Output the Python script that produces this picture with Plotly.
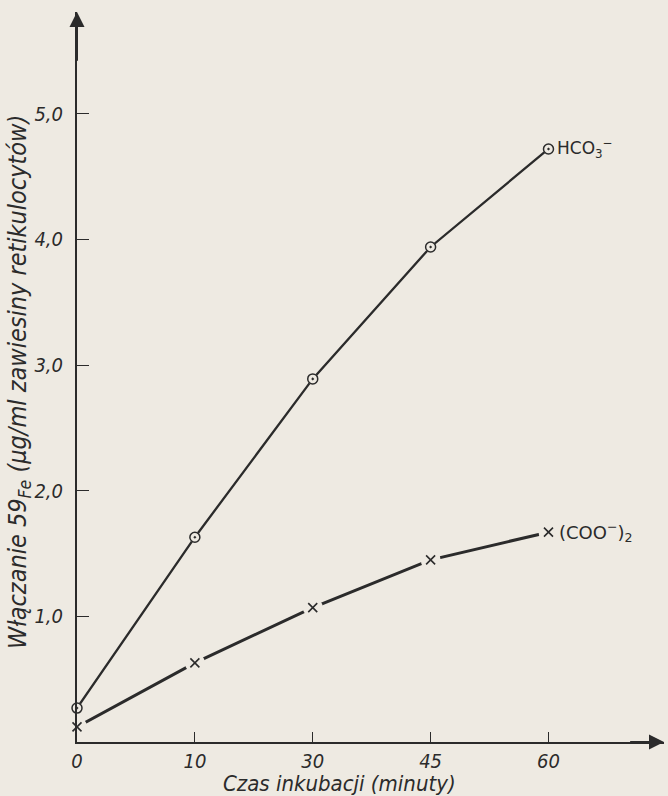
import plotly.graph_objects as go

# ---- data ----
time_labels = ["0", "10", "30", "45", "60"]
hco3_values = [0.27, 1.63, 2.89, 3.94, 4.72]
oxalate_values = [0.12, 0.63, 1.07, 1.45, 1.67]
y_tick_vals = [1, 2, 3, 4, 5]
y_tick_text = ["1,0", "2,0", "3,0", "4,0", "5,0"]

BG = "#eeeae2"
INK = "#2b2b2b"
FONT = "Liberation Sans Narrow, DejaVu Sans Condensed, sans-serif"

W, H = 668, 796
ML, MR, MT, MB = 77, 4, 12, 54
PW, PH = W - ML - MR, H - MT - MB

xi = list(range(len(time_labels)))

fig = go.Figure()
fig.add_trace(go.Scatter(x=xi, y=hco3_values, mode="lines",
                         line=dict(color=INK, width=2.3), cliponaxis=False,
                         hoverinfo="skip", showlegend=False))
fig.add_trace(go.Scatter(x=xi, y=oxalate_values, mode="lines",
                         line=dict(color=INK, width=3), cliponaxis=False,
                         hoverinfo="skip", showlegend=False))
# knock-outs so lines stop short of the markers
fig.add_trace(go.Scatter(x=xi, y=oxalate_values, mode="markers",
                         marker=dict(symbol="circle", size=20, color=BG, line=dict(width=0)),
                         cliponaxis=False, hoverinfo="skip", showlegend=False))
fig.add_trace(go.Scatter(x=xi, y=hco3_values, mode="markers",
                         marker=dict(symbol="circle", size=11, color=BG, line=dict(width=0)),
                         cliponaxis=False, hoverinfo="skip", showlegend=False))
fig.add_trace(go.Scatter(x=xi, y=hco3_values, mode="markers",
                         marker=dict(symbol="circle-open-dot", size=10, color=INK,
                                     line=dict(width=1.5, color=INK)),
                         cliponaxis=False, showlegend=False))
fig.add_trace(go.Scatter(x=xi, y=oxalate_values, mode="markers",
                         marker=dict(symbol="x-thin", size=9, color=INK,
                                     line=dict(width=1.6, color=INK)),
                         cliponaxis=False, showlegend=False))

xmax = 4.98
ymax = 5.81

fig.update_layout(
    width=W, height=H,
    margin=dict(l=ML, r=MR, t=MT, b=MB),
    paper_bgcolor=BG, plot_bgcolor=BG,
    font=dict(family=FONT, color=INK, size=15),
    xaxis=dict(range=[0, xmax], tickmode="array", tickvals=xi, ticktext=time_labels,
               ticks="inside", ticklen=10, tickwidth=1.2, tickcolor=INK,
               showline=True, linecolor=INK, linewidth=2, showgrid=False, zeroline=False,
               tickfont=dict(family=FONT, size=20, style="italic", color=INK),
               ticklabelstandoff=0),
    yaxis=dict(range=[0, ymax], tickmode="array", tickvals=y_tick_vals, ticktext=y_tick_text,
               ticks="inside", ticklen=12, tickwidth=1.2, tickcolor=INK,
               showline=True, linecolor=INK, linewidth=2, showgrid=False, zeroline=False,
               tickfont=dict(family=FONT, size=20, style="italic", color=INK),
               ticklabelstandoff=8),
)

# axis arrows
fig.add_annotation(x=xmax, y=0, ax=xmax - 0.3, ay=0, xref="x", yref="y", axref="x", ayref="y",
                   showarrow=True, arrowhead=2, arrowsize=1.5, arrowwidth=2, arrowcolor=INK, text="")
fig.add_annotation(x=0, y=ymax, ax=0, ay=ymax - 0.4, xref="x", yref="y", axref="x", ayref="y",
                   showarrow=True, arrowhead=2, arrowsize=1.5, arrowwidth=2, arrowcolor=INK, text="")

# series labels
fig.add_annotation(x=xi[-1], y=hco3_values[-1], xref="x", yref="y", xshift=7, xanchor="left",
                   yanchor="middle", showarrow=False,
                   text="HCO<sub>3</sub><sup>−</sup>",
                   font=dict(family="DejaVu Sans, sans-serif", size=17, color=INK))
fig.add_annotation(x=xi[-1], y=oxalate_values[-1], xref="x", yref="y", xshift=9, xanchor="left",
                   yanchor="middle", showarrow=False,
                   text="(COO<sup>−</sup>)<sub>2</sub>",
                   font=dict(family="DejaVu Sans, sans-serif", size=18, color=INK))

# axis titles
fig.add_annotation(xref="paper", yref="paper", x=(339 - ML) / PW, y=(H - MB - 783) / PH,
                   xanchor="center", yanchor="middle", showarrow=False,
                   text="Czas inkubacji (minuty)",
                   font=dict(family=FONT, size=22, style="italic", color=INK))
fig.add_annotation(xref="paper", yref="paper", x=(19 - ML) / PW, y=(H - MB - 382) / PH,
                   xanchor="center", yanchor="middle", showarrow=False, textangle=-90,
                   text="Włączanie 59<sub>Fe</sub> (µg/ml zawiesiny retikulocytów)",
                   font=dict(family=FONT, size=25, style="italic", color=INK))

fig.write_html(
    "out.html",
    config={"displayModeBar": False},
    post_script="document.body.style.margin='0';document.body.style.background='%s';" % BG,
)
